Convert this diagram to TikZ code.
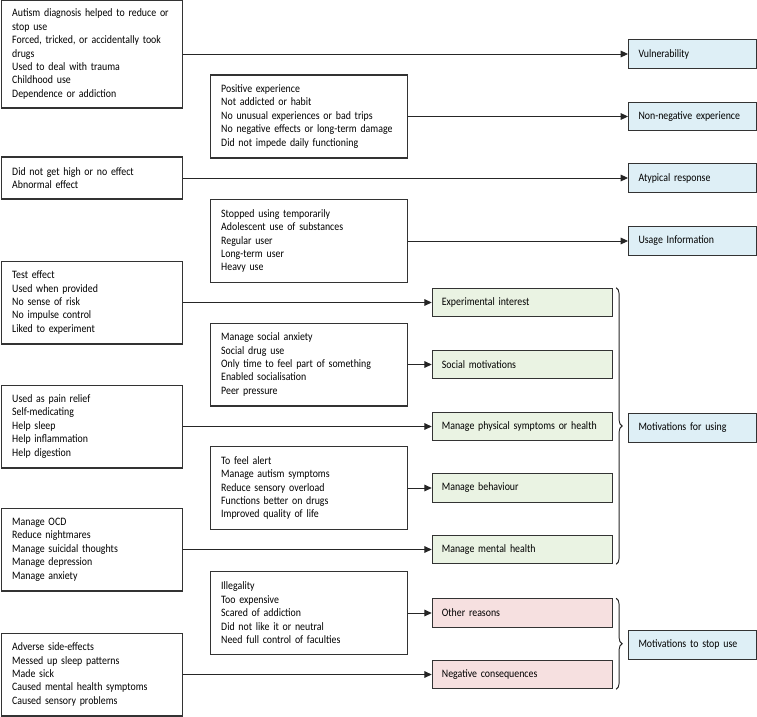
\documentclass[tikz,border=0pt]{standalone}
\usepackage{fontspec}
\setmainfont{Carlito}[FakeStretch=0.87]
\usetikzlibrary{arrows.meta,decorations.pathreplacing}
\definecolor{themeblue}{RGB}{222,239,246}
\definecolor{themegreen}{RGB}{234,243,227}
\definecolor{themered}{RGB}{246,224,224}
\tikzset{
  box/.style={draw=black!80, line width=0.8pt, align=left, anchor=west,
    inner xsep=8pt, font=\fontsize{8.5}{10.1}\selectfont},
  srcleft/.style={box, text width=120pt, minimum height=62.2pt},
  srcright/.style={box, text width=132pt, minimum height=62.2pt},
  themebox/.style={box, text width=121pt, minimum height=21.4pt, inner xsep=7.25pt},
  groupbox/.style={box, fill=themeblue, text width=81pt, minimum height=21.4pt, inner xsep=7.5pt},
  link/.style={line width=0.7pt, draw=black!85, -{Triangle[length=5.5pt,width=5pt]}},
  bracket/.style={line width=0.7pt, draw=black!85, decorate, decoration={brace, amplitude=4.5pt}}
}
\begin{document}
\begin{tikzpicture}[x=0.75pt,y=-0.75pt]
	\useasboundingbox (0,0) rectangle (757,717);
	% sources
	\node[srcleft, minimum height=81pt] (vulsrc) at (1,54) {Autism diagnosis helped to reduce or stop use\\Forced, tricked, or accidentally took drugs\\Used to deal with trauma\\Childhood use\\Dependence or addiction};
	\node[srcright] (nonsrc) at (210,116.5) {Positive experience\\Not addicted or habit\\No unusual experiences or bad trips\\No negative effects or long-term damage\\Did not impede daily functioning};
	\node[srcleft, minimum height=31.5pt] (atysrc) at (1,178) {Did not get high or no effect\\Abnormal effect};
	\node[srcright] (usesrc) at (210,241) {Stopped using temporarily\\Adolescent use of substances\\Regular user\\Long-term user\\Heavy use};
	\node[srcleft] (expsrc) at (1,302.5) {Test effect\\Used when provided\\No sense of risk\\No impulse control\\Liked to experiment};
	\node[srcright] (socsrc) at (210,364.5) {Manage social anxiety\\Social drug use\\Only time to feel part of something\\Enabled socialisation\\Peer pressure};
	\node[srcleft] (physrc) at (1,426.5) {Used as pain relief\\Self-medicating\\Help sleep\\Help inflammation\\Help digestion};
	\node[srcright] (behsrc) at (210,488) {To feel alert\\Manage autism symptoms\\Reduce sensory overload\\Functions better on drugs\\Improved quality of life};
	\node[srcleft] (mensrc) at (1,549.5) {Manage OCD\\Reduce nightmares\\Manage suicidal thoughts\\Manage depression\\Manage anxiety};
	\node[srcright] (othsrc) at (210,613) {Illegality\\Too expensive\\Scared of addiction\\Did not like it or neutral\\Need full control of faculties};
	\node[srcleft] (negsrc) at (1,674.5) {Adverse side-effects\\Messed up sleep patterns\\Made sick\\Caused mental health symptoms\\Caused sensory problems};
	% themes
	\node[groupbox] (vul) at (628,54) {Vulnerability};
	\node[groupbox] (non) at (628,116.5) {Non-negative experience};
	\node[groupbox] (aty) at (628,178) {Atypical response};
	\node[groupbox] (use) at (628,241) {Usage Information};
	\node[themebox, fill=themegreen] (exp) at (431.7,302.5) {Experimental interest};
	\node[themebox, fill=themegreen] (soc) at (431.7,364.5) {Social motivations};
	\node[themebox, fill=themegreen] (phy) at (431.7,426.5) {Manage physical symptoms or health};
	\node[themebox, fill=themegreen] (beh) at (431.7,488) {Manage behaviour};
	\node[themebox, fill=themegreen] (men) at (431.7,549.5) {Manage mental health};
	\node[themebox, fill=themered] (oth) at (431.7,613) {Other reasons};
	\node[themebox, fill=themered] (neg) at (431.7,674.5) {Negative consequences};
	\node[groupbox] (motuse) at (628,428) {Motivations for using};
	\node[groupbox] (motstop) at (628,644.8) {Motivations to stop use};
	% links
	\draw[link] (vulsrc) -- (vul);
	\draw[link] (nonsrc) -- (non);
	\draw[link] (atysrc) -- (aty);
	\draw[link] (usesrc) -- (use);
	\draw[link] (expsrc) -- (exp);
	\draw[link] (socsrc) -- (soc);
	\draw[link] (physrc) -- (phy);
	\draw[link] (behsrc) -- (beh);
	\draw[link] (mensrc) -- (men);
	\draw[link] (othsrc) -- (oth);
	\draw[link] (negsrc) -- (neg);
	% braces
	\draw[bracket] ([xshift=2pt]exp.north east) -- ([xshift=2pt]men.south east);
	\draw[bracket] ([xshift=2pt]oth.north east) -- ([xshift=2pt]neg.south east);
\end{tikzpicture}
\end{document}
